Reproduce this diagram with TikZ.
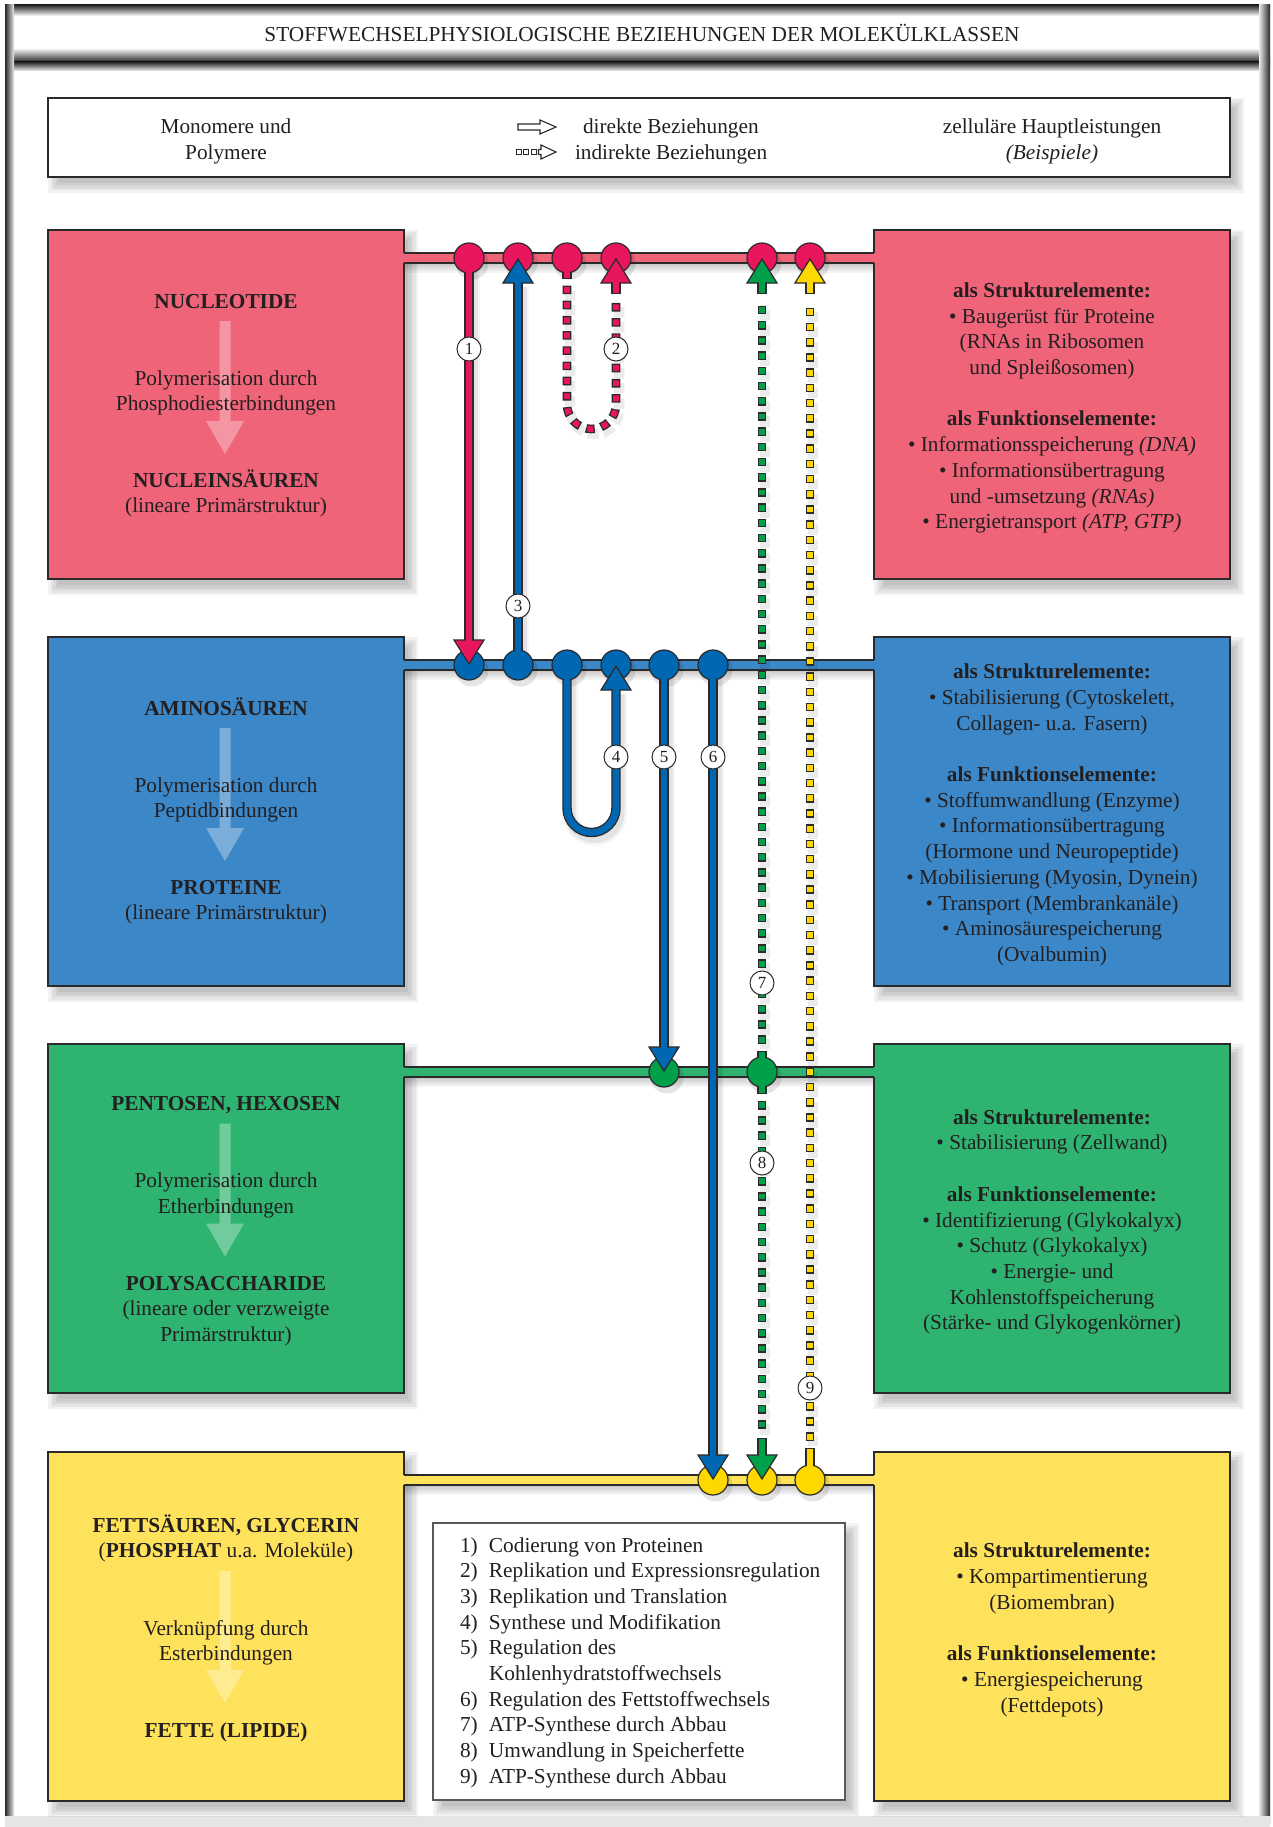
\documentclass[tikz,border=0pt]{standalone}
\usepackage{fontspec}
\setmainfont{Liberation Serif}
\usetikzlibrary{calc}
\definecolor{txt}{HTML}{231F20}
\definecolor{edge}{HTML}{2A2A2A}
\definecolor{redbox}{HTML}{EF6478}
\definecolor{redc}{HTML}{E8175D}
\definecolor{bluebox}{HTML}{3C87C8}
\definecolor{bluec}{HTML}{0068B3}
\definecolor{greenbox}{HTML}{2EB470}
\definecolor{greenc}{HTML}{00A04B}
\definecolor{yelbox}{HTML}{FFE25C}
\definecolor{yelc}{HTML}{FFD800}
\pgfdeclarelayer{back}
\pgfdeclarelayer{lines}
\pgfdeclarelayer{front}
\pgfsetlayers{back,lines,main,front}
\newcommand\fsz{\fontsize{21.3pt}{25.7pt}\selectfont}
\newcommand\shd[4]{\foreach \s in {0,2.5,5,7.5,10}{\fill[black,opacity=0.05] (#1+\s,#2+\s) rectangle (#3+14-\s,#4+16-\s);}}
\newcommand\rowframe[4]{%
 \shd{48}{#1}{404}{#1+349}%
 \shd{874}{#1}{1230}{#1+349}%
 \foreach \s in {2,4,6,8,10}{\fill[black,opacity=0.045] (404,#1+33) rectangle (874,#1+33+\s);}%
 \node[boxst, fill=#2] (#3) at (48,#1) {};%
 \node[boxst, fill=#2] (#4) at (874,#1) {};%
 \fill[#2] (402,#1+23) rectangle (876,#1+33);%
 \draw[edge, line width=1.2pt] (404,#1+23) -- (874,#1+23) (404,#1+33) -- (874,#1+33);%
}
\newcommand\softarrow[3]{\fill[white,opacity=0.32] (219.5,#1) -- (230.5,#1) -- (230.5,#2) -- (244,#2) -- (225,#3) -- (206,#2) -- (219.5,#2) -- cycle;}
\tikzset{lnshadow/.style={black, transform canvas={xshift=3pt, yshift=-5pt}}}
\newcommand\solidln[2]{%
 \draw[lnshadow, line width=16pt, opacity=0.04] #2;
 \draw[lnshadow, line width=11pt, opacity=0.07] #2;
 \draw[line width=9.4pt, edge] #2; \draw[line width=6.8pt, #1] #2;}
\newcommand\dotln[2]{%
 \draw[lnshadow, line width=10.5pt, opacity=0.08, dash pattern=on 10.5pt off 4.7pt, dash phase=0.95pt] #2;
 \draw[line width=8.6pt, edge, dash pattern=on 8.6pt off 6.6pt] #2;
 \draw[line width=5.9pt, #1, dash pattern=on 5.9pt off 9.3pt, dash phase=13.85pt] #2;}
\newcommand\headup[2]{\draw[fill=#1, draw=edge, line width=1.2pt, line join=miter] ($(#2)+(0,1)$) -- ($(#2)+(-15,25)$) -- ($(#2)+(15,25)$) -- cycle;}
\newcommand\headdown[2]{\draw[fill=#1, draw=edge, line width=1.2pt, line join=miter] ($(#2)+(0,-1)$) -- ($(#2)+(-15,-25)$) -- ($(#2)+(15,-25)$) -- cycle;}
\begin{document}
\begin{tikzpicture}[x=1pt,y=-1pt,
  every node/.style={inner sep=0pt, outer sep=0pt, text=txt, font=\fsz},
  boxst/.style={draw=edge, line width=1.3pt, anchor=north west, minimum width=356pt, minimum height=349pt},
  busdot/.style={circle, draw=edge, line width=1.2pt, minimum size=30pt},
  numlab/.style={circle, draw=edge, line width=1pt, fill=white, minimum size=24pt, font=\fontsize{17pt}{18pt}\selectfont},
  tx/.style={align=center, anchor=base}]
\useasboundingbox (0,0) rectangle (1272,1827);

% ---------------- background frame ----------------
\begin{pgfonlayer}{back}
\fill[white] (0,0) rectangle (1272,1827);
\shade[top color=black!85, bottom color=white] (5,5) rectangle (1270,16);
\shade[top color=white, bottom color=black!85] (5,48) rectangle (1270,62);
\shade[top color=black!85, bottom color=black!6] (5,62) rectangle (1270,71);
\shade[left color=black!85, right color=black!8] (5,5) rectangle (14,1822);
\shade[left color=black!8, right color=black!85] (1259,5) rectangle (1270,1822);
\fill[black!10] (5,1816) rectangle (1270,1827);
% top legend box
\shd{48}{98}{1230}{177}
\node[draw=edge, line width=2.8pt, fill=white, anchor=north west, minimum width=1182pt, minimum height=79pt] (legend) at (48,98) {};
% rows
\rowframe{230}{redbox}{L1}{R1}
\rowframe{637}{bluebox}{L2}{R2}
\rowframe{1044}{greenbox}{L3}{R3}
\rowframe{1452}{yelbox}{L4}{R4}
\softarrow{321}{421}{454}
\softarrow{728}{828}{861}
\softarrow{1123.5}{1223.5}{1256.5}
\softarrow{1571}{1670}{1703}
% numbered list box
\shd{433}{1523}{845}{1800}
\node[draw=black!65, line width=1.6pt, fill=white, anchor=north west, minimum width=412pt, minimum height=277pt] (lbox) at (433,1523) {};
\end{pgfonlayer}

% ---------------- circles on the buses ----------------
\node[busdot, fill=redc] (c1a) at (469,258) {};
\node[busdot, fill=redc] (c1b) at (518,258) {};
\node[busdot, fill=redc] (c1c) at (567,258) {};
\node[busdot, fill=redc] (c1d) at (616,258) {};
\node[busdot, fill=redc] (c1e) at (762,258) {};
\node[busdot, fill=redc] (c1f) at (810,258) {};
\node[busdot, fill=bluec] (c2a) at (469,665) {};
\node[busdot, fill=bluec] (c2b) at (518,665) {};
\node[busdot, fill=bluec] (c2c) at (567,665) {};
\node[busdot, fill=bluec] (c2d) at (616,665) {};
\node[busdot, fill=bluec] (c2e) at (664,665) {};
\node[busdot, fill=bluec] (c2f) at (713,665) {};
\node[busdot, fill=greenc] (c3a) at (664,1072) {};
\node[busdot, fill=greenc] (c3b) at (762,1072) {};
\node[busdot, fill=yelc] (c4a) at (713,1480) {};
\node[busdot, fill=yelc] (c4b) at (762,1480) {};
\node[busdot, fill=yelc] (c4c) at (810,1480) {};

% ---------------- connectors ----------------
\begin{pgfonlayer}{lines}
\foreach \n in {c1a,c1b,c1c,c1d,c1e,c1f,c2a,c2b,c2c,c2d,c2e,c2f,c3a,c3b,c4a,c4b,c4c}
  {\fill[lnshadow, opacity=0.1] (\n.center) circle (16.5);}
\solidln{redc}{(c1a.center) -- ($(c2a)+(0,-22)$)}
\solidln{bluec}{(c2b.center) -- ($(c1b)+(0,24)$)}
\solidln{bluec}{(c2c.center) -- (567,808) .. controls (567,821.5) and (578,832.5) .. (591.5,832.5) .. controls (605,832.5) and (616,821.5) .. (616,808) -- ($(c2d)+(0,24)$)}
\solidln{bluec}{(c2e.center) -- ($(c3a)+(0,-22)$)}
\solidln{bluec}{(c2f.center) -- ($(c4a)+(0,-22)$)}
\dotln{redc}{($(c1c)+(0,27.5)$) -- (567,404.5) .. controls (567,418) and (578,429) .. (591.5,429) .. controls (605,429) and (616,418) .. (616,404.5) -- ($(c1d)+(0,40)$)}
\dotln{greenc}{($(c3b)+(0,-28)$) -- ($(c1e)+(0,42)$)}
\dotln{greenc}{($(c3b)+(0,29)$) -- ($(c4b)+(0,-46)$)}
\dotln{yelc}{($(c4c)+(0,-39)$) -- ($(c1f)+(0,44)$)}
% stubs (outer)
\draw[line width=9.4pt, edge] (c1c.center) -- ($(c1c)+(0,21.2)$);
\draw[line width=9.4pt, edge] (c3b.center) -- ($(c3b)+(0,-21.2)$);
\draw[line width=9.4pt, edge] (c3b.center) -- ($(c3b)+(0,22.2)$);
\draw[line width=9.4pt, edge] (c4c.center) -- ($(c4c)+(0,-32.2)$);
\draw[line width=9.4pt, edge] ($(c1d)+(0,24)$) -- ($(c1d)+(0,36.2)$);
\draw[line width=9.4pt, edge] ($(c1e)+(0,24)$) -- ($(c1e)+(0,36.2)$);
\draw[line width=9.4pt, edge] ($(c1f)+(0,24)$) -- ($(c1f)+(0,36.2)$);
\draw[line width=9.4pt, edge] ($(c4b)+(0,-24)$) -- ($(c4b)+(0,-42.2)$);
\end{pgfonlayer}

\begin{pgfonlayer}{front}
% joints at start circles
\draw[line width=6.8pt, redc] (c1a.center) -- ($(c1a)+(0,17)$);
\draw[line width=6.8pt, bluec] (c2b.center) -- ($(c2b)+(0,-17)$);
\draw[line width=6.8pt, bluec] (c2c.center) -- ($(c2c)+(0,17)$);
\draw[line width=6.8pt, bluec] (c2e.center) -- ($(c2e)+(0,17)$);
\draw[line width=6.8pt, bluec] (c2f.center) -- ($(c2f)+(0,17)$);
\draw[line width=6.8pt, redc] (c1c.center) -- ($(c1c)+(0,20)$);
\draw[line width=6.8pt, greenc] (c3b.center) -- ($(c3b)+(0,-20)$);
\draw[line width=6.8pt, greenc] (c3b.center) -- ($(c3b)+(0,21)$);
\draw[line width=6.8pt, yelc] (c4c.center) -- ($(c4c)+(0,-31)$);
% arrowheads
\headdown{redc}{c2a}
\headup{bluec}{c1b}
\headup{bluec}{c2d}
\headdown{bluec}{c3a}
\headdown{bluec}{c4a}
\headup{redc}{c1d}
\headup{greenc}{c1e}
\headup{yelc}{c1f}
\headdown{greenc}{c4b}
% joints at arrowheads
\draw[line width=6.8pt, redc] ($(c2a)+(0,-23.5)$) -- ($(c2a)+(0,-27)$);
\draw[line width=6.8pt, bluec] ($(c1b)+(0,23.5)$) -- ($(c1b)+(0,27)$);
\draw[line width=6.8pt, bluec] ($(c2d)+(0,23.5)$) -- ($(c2d)+(0,27)$);
\draw[line width=6.8pt, bluec] ($(c3a)+(0,-23.5)$) -- ($(c3a)+(0,-27)$);
\draw[line width=6.8pt, bluec] ($(c4a)+(0,-23.5)$) -- ($(c4a)+(0,-27)$);
\draw[line width=6.8pt, redc] ($(c1d)+(0,23.5)$) -- ($(c1d)+(0,35)$);
\draw[line width=6.8pt, greenc] ($(c1e)+(0,23.5)$) -- ($(c1e)+(0,35)$);
\draw[line width=6.8pt, yelc] ($(c1f)+(0,23.5)$) -- ($(c1f)+(0,35)$);
\draw[line width=6.8pt, greenc] ($(c4b)+(0,-23.5)$) -- ($(c4b)+(0,-41)$);
% number labels
\node[numlab] (n1) at (469,349) {1};
\node[numlab] (n2) at (616,349) {2};
\node[numlab] (n3) at (518,606) {3};
\node[numlab] (n4) at (616,757) {4};
\node[numlab] (n5) at (664,757) {5};
\node[numlab] (n6) at (713,757) {6};
\node[numlab] (n7) at (762,983) {7};
\node[numlab] (n8) at (762,1163) {8};
\node[numlab] (n9) at (810,1388) {9};
\end{pgfonlayer}

% ---------------- title and legend ----------------
% (multi-line nodes: anchor=base sits on the LAST line's baseline)
\node[anchor=base] (title) at (642,42) {STOFFWECHSELPHYSIOLOGISCHE BEZIEHUNGEN DER MOLEKÜLKLASSEN};
\node[tx] (mono) at (226,159.7) {Monomere und\\Polymere};
\node[tx] (zell) at (1052,159.7) {zelluläre Hauptleistungen\\\textit{(Beispiele)}};
\node[anchor=base west] (dir) at (583,134) {direkte Beziehungen};
\node[anchor=base west] (indir) at (575,159.7) {indirekte Beziehungen};
\draw[edge, line width=1.1pt, fill=white, line join=miter] (518,124) -- (540,124) -- (540,120) -- (556,127) -- (540,134) -- (540,130) -- (518,130) -- cycle;
\draw[edge, line width=0.9pt, fill=white] (516,149.5) rectangle (521,154.5);
\draw[edge, line width=0.9pt, fill=white] (523.5,149.5) rectangle (528.5,154.5);
\draw[edge, line width=0.9pt, fill=white] (531,149.5) rectangle (536,154.5);
\draw[edge, line width=1.1pt, fill=white, line join=miter] (538.5,149.5) -- (541,149.5) -- (541,145) -- (556,152) -- (541,159) -- (541,154.5) -- (538.5,154.5) -- cycle;

% ---------------- left boxes ----------------
\node[tx] (m1) at (226,308) {\textbf{NUCLEOTIDE}};
\node[tx] (p1) at (226,410.7) {Polymerisation durch\\Phosphodiesterbindungen};
\node[tx] (k1) at (226,512.7) {\textbf{NUCLEINSÄUREN}\\(lineare Primärstruktur)};
\node[tx] (m2) at (226,715) {\textbf{AMINOSÄUREN}};
\node[tx] (p2) at (226,817.7) {Polymerisation durch\\Peptidbindungen};
\node[tx] (k2) at (226,919.7) {\textbf{PROTEINE}\\(lineare Primärstruktur)};
\node[tx] (m3) at (226,1110.5) {\textbf{PENTOSEN, HEXOSEN}};
\node[tx] (p3) at (226,1213.2) {Polymerisation durch\\Etherbindungen};
\node[tx] (k3) at (226,1341.4) {\textbf{POLYSACCHARIDE}\\(lineare oder verzweigte\\Primärstruktur)};
\node[tx] (m4) at (226,1557.7) {\textbf{FETTSÄUREN, GLYCERIN}\\(\textbf{PHOSPHAT} u.a. Moleküle)};
\node[tx] (p4) at (226,1660.7) {Verknüpfung durch\\Esterbindungen};
\node[tx] (k4) at (226,1737) {\textbf{FETTE (LIPIDE)}};

% ---------------- right boxes ----------------
\node[tx] (f1) at (1052,528.7) {\textbf{als Strukturelemente:}\\
• Baugerüst für Proteine\\
(RNAs in Ribosomen\\
und Spleißosomen)\\[25.7pt]
\textbf{als Funktionselemente:}\\
• Informationsspeicherung \textit{(DNA)}\\
• Informationsübertragung\\
und -umsetzung \textit{(RNAs)}\\
• Energietransport \textit{(ATP, GTP)}};
\node[tx] (f2) at (1052,961.4) {\textbf{als Strukturelemente:}\\
• Stabilisierung (Cytoskelett,\\
Collagen- u.a. Fasern)\\[25.7pt]
\textbf{als Funktionselemente:}\\
• Stoffumwandlung (Enzyme)\\
• Informationsübertragung\\
(Hormone und Neuropeptide)\\
• Mobilisierung (Myosin, Dynein)\\
• Transport (Membrankanäle)\\
• Aminosäurespeicherung\\
(Ovalbumin)};
\node[tx] (f3) at (1052,1329.8) {\textbf{als Strukturelemente:}\\
• Stabilisierung (Zellwand)\\[25.7pt]
\textbf{als Funktionselemente:}\\
• Identifizierung (Glykokalyx)\\
• Schutz (Glykokalyx)\\
• Energie- und\\
Kohlenstoffspeicherung\\
(Stärke- und Glykogenkörner)};
\node[tx] (f4) at (1052,1712.1) {\textbf{als Strukturelemente:}\\
• Kompartimentierung\\
(Biomembran)\\[25.7pt]
\textbf{als Funktionselemente:}\\
• Energiespeicherung\\
(Fettdepots)};

% ---------------- numbered list ----------------
\node[anchor=base west, align=left] (lst) at (460,1783.3) {\makebox[29pt][l]{1)}Codierung von Proteinen\\
\makebox[29pt][l]{2)}Replikation und Expressionsregulation\\
\makebox[29pt][l]{3)}Replikation und Translation\\
\makebox[29pt][l]{4)}Synthese und Modifikation\\
\makebox[29pt][l]{5)}Regulation des\\
\hspace*{29pt}Kohlenhydratstoffwechsels\\
\makebox[29pt][l]{6)}Regulation des Fettstoffwechsels\\
\makebox[29pt][l]{7)}ATP-Synthese durch Abbau\\
\makebox[29pt][l]{8)}Umwandlung in Speicherfette\\
\makebox[29pt][l]{9)}ATP-Synthese durch Abbau};
\end{tikzpicture}
\end{document}
